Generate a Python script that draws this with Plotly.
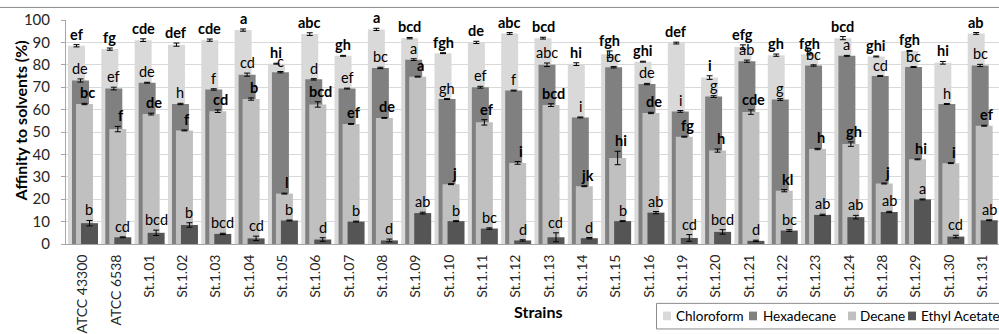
import plotly.graph_objects as go

strains = ["ATCC 43300", "ATCC 6538", "St.1.01", "St.1.02", "St.1.03", "St.1.04", "St.1.05",
           "St.1.06", "St.1.07", "St.1.08", "St.1.09", "St.1.10", "St.1.11", "St.1.12",
           "St.1.13", "St.1.14", "St.1.15", "St.1.16", "St.1.19", "St.1.20", "St.1.21",
           "St.1.22", "St.1.23", "St.1.24", "St.1.28", "St.1.29", "St.1.30", "St.1.31"]

chloroform = [88.5, 87.0, 91.0, 89.0, 91.0, 95.5, 80.5, 93.7, 84.0, 95.8, 91.9, 85.2, 90.0, 94.0,
              91.9, 80.3, 84.7, 81.4, 89.7, 74.3, 87.9, 84.3, 84.7, 91.9, 83.7, 86.2, 80.9, 94.0]
chloroform_err = [0.5, 0.5, 0.6, 0.7, 0.5, 0.5, 0.2, 0.6, 0.2, 0.5, 0.3, 0.2, 0.5, 0.4,
                  0.4, 0.6, 1.5, 0.2, 0.4, 0.8, 1.0, 0.5, 0.3, 0.7, 0.2, 0.2, 0.6, 0.4]
chloroform_lbl = ["ef", "fg", "cde", "def", "cde", "a", "hi", "abc", "gh", "a", "bcd", "fgh", "de", "abc",
                  "bcd", "hi", "fgh", "ghi", "def", "i", "efg", "gh", "fgh", "bcd", "ghi", "fgh", "hi", "ab"]

hexadecane = [73.0, 69.4, 72.0, 62.5, 69.0, 75.6, 76.7, 73.5, 69.4, 78.6, 82.3, 64.7, 70.0, 68.5,
              80.0, 56.5, 78.9, 71.4, 59.2, 65.8, 81.6, 64.5, 79.7, 84.0, 75.0, 79.0, 62.5, 79.7]
hexadecane_err = [0.7, 0.6, 0.2, 0.3, 0.3, 0.7, 0.3, 0.3, 0.2, 0.3, 0.4, 0.2, 0.4, 0.2,
                  0.8, 0.2, 0.3, 0.3, 0.4, 0.4, 0.5, 0.4, 0.3, 0.2, 0.2, 0.2, 0.2, 0.5]
hexadecane_lbl = ["de", "ef", "de", "h", "f", "cd", "c", "d", "ef", "bc", "a", "gh", "ef", "f",
                  "abc", "i", "bc", "de", "i", "g", "ab", "g", "bc", "a", "cd", "bc", "h", "bc"]

decane = [62.5, 51.3, 58.0, 50.7, 59.3, 64.7, 22.5, 62.3, 53.6, 56.3, 74.7, 26.7, 54.3, 36.2,
          62.0, 25.8, 38.4, 58.5, 47.9, 41.7, 58.9, 23.8, 42.4, 44.6, 27.0, 37.8, 36.1, 52.8]
decane_err = [0.3, 1.2, 0.4, 0.2, 0.6, 0.5, 0.2, 1.2, 0.2, 0.2, 0.2, 0.2, 1.2, 0.6,
              0.6, 0.2, 3.0, 0.3, 0.2, 0.7, 1.0, 0.5, 0.3, 1.0, 0.2, 0.2, 0.2, 0.2]
decane_lbl = ["bc", "f", "de", "f", "cd", "b", "l", "bcd", "ef", "de", "a", "j", "ef", "i",
              "bcd", "jk", "hi", "de", "fg", "h", "cde", "kl", "h", "gh", "j", "hi", "i", "ef"]

ethyl_acetate = [9.3, 3.0, 5.0, 8.5, 4.5, 2.5, 10.5, 2.0, 10.0, 1.6, 13.8, 10.2, 6.9, 1.6,
                 3.0, 2.6, 10.2, 14.0, 2.7, 5.4, 1.4, 6.0, 13.0, 12.0, 14.3, 19.9, 3.3, 10.6]
ethyl_acetate_err = [1.2, 0.2, 1.2, 1.0, 0.3, 1.0, 0.2, 0.8, 0.2, 0.6, 0.4, 0.2, 0.3, 0.3,
                     2.0, 0.3, 0.2, 0.5, 1.5, 1.0, 0.3, 0.4, 0.3, 0.8, 0.3, 0.2, 0.6, 0.2]
ethyl_acetate_lbl = ["b", "cd", "bcd", "b", "bcd", "cd", "b", "d", "b", "d", "ab", "b", "bc", "d",
                     "cd", "d", "b", "ab", "cd", "bcd", "d", "bc", "ab", "ab", "ab", "a", "cd", "ab"]

series_names = ["Chloroform", "Hexadecane", "Decane", "Ethyl Acetate"]

# styles
FONT = "Lato"
W = 0.51
styles = [
    dict(color="#D9D9D9", offset=-0.44, bold=True, xshift=0),
    dict(color="#808080", offset=-0.32, bold=False, xshift=0),
    dict(color="#C0C0C0", offset=-0.20, bold=True, xshift=3),
    dict(color="#555555", offset=-0.05, bold=False, xshift=0),
]
data = [
    (chloroform, chloroform_err, chloroform_lbl),
    (hexadecane, hexadecane_err, hexadecane_lbl),
    (decane, decane_err, decane_lbl),
    (ethyl_acetate, ethyl_acetate_err, ethyl_acetate_lbl),
]

L, R, T, B = 66, 0, 20, 82
WIDTH, HEIGHT = 999, 334
PW = WIDTH - L - R
PH = HEIGHT - T - B


def px_x(p):
    return (p - L) / PW


def px_y(p):
    return (HEIGHT - B - p) / PH


fig = go.Figure()
xs = list(range(len(strains)))
annotations = []
for name, (vals, errs, lbls), st in zip(series_names, data, styles):
    fig.add_trace(go.Bar(
        x=xs, y=vals, name=name, width=W, offset=st["offset"],
        marker=dict(color=st["color"], line=dict(width=0)),
        error_y=dict(type="data", array=errs, color="#000000", thickness=1, width=3),
        showlegend=False,
    ))
    for i, (v, e, t) in enumerate(zip(vals, errs, lbls)):
        annotations.append(dict(
            x=i + st["offset"] + W / 2, y=v + e, xref="x", yref="y",
            text=f"<b>{t}</b>" if st["bold"] else t,
            showarrow=False, yanchor="bottom", xanchor="center", yshift=0, xshift=st["xshift"],
            font=dict(family=FONT, size=14.5, color="#000000"),
        ))

# axis titles
annotations.append(dict(
    x=px_x(538), y=px_y(322), xref="paper", yref="paper", text="<b>Strains</b>",
    showarrow=False, xanchor="center", yanchor="middle",
    font=dict(family=FONT, size=16, color="#000000"),
))
annotations.append(dict(
    x=px_x(20), y=px_y(125), xref="paper", yref="paper", text="<b>Affinity to solvents (%)</b>",
    showarrow=False, xanchor="center", yanchor="middle", textangle=-90,
    font=dict(family=FONT, size=16, color="#000000"),
))

# manual legend
shapes = [
    dict(type="line", xref="paper", yref="paper", x0=px_x(0), x1=px_x(999), y0=px_y(7), y1=px_y(7),
         line=dict(color="#8C8C8C", width=1)),
    dict(type="rect", xref="paper", yref="paper", x0=px_x(656.5), x1=px_x(1010), y0=px_y(313.5), y1=px_y(340),
         line=dict(color="#8C8C8C", width=1), fillcolor="rgba(0,0,0,0)"),
]
leg_sq = [663, 749, 848, 908]
leg_tx = [674, 761, 858, 919]
for name, st, sx, tx in zip(series_names, styles, leg_sq, leg_tx):
    shapes.append(dict(type="rect", xref="paper", yref="paper", x0=px_x(sx), x1=px_x(sx + 8),
                       y0=px_y(331), y1=px_y(322), line=dict(width=0), fillcolor=st["color"]))
    annotations.append(dict(
        x=px_x(tx), y=px_y(326.5), xref="paper", yref="paper", text=name, showarrow=False,
        xanchor="left", yanchor="middle", font=dict(family=FONT, size=13.5, color="#000000"),
    ))

fig.update_layout(
    width=WIDTH, height=HEIGHT, barmode="overlay",
    margin=dict(l=L, r=R, t=T, b=B, pad=0),
    paper_bgcolor="white", plot_bgcolor="white",
    font=dict(family=FONT, color="#000000"),
    annotations=annotations, shapes=shapes,
    xaxis=dict(
        range=[-0.5, len(strains) - 0.5], tickmode="array", tickvals=xs, ticktext=strains,
        tickangle=-90, tickfont=dict(family=FONT, size=14, color="#262626"),
        showgrid=False, zeroline=False, showline=True, linecolor="#A6A6A6", linewidth=1,
        ticks="", ticklabelstandoff=4,
    ),
    yaxis=dict(
        range=[0, 100], dtick=10, tickfont=dict(family=FONT, size=15, color="#262626"),
        showgrid=True, gridcolor="#D9D9D9", gridwidth=1, zeroline=False,
        showline=True, linecolor="#A6A6A6", linewidth=1, ticks="outside", ticklen=4,
        tickcolor="#A6A6A6", ticklabelstandoff=8,
    ),
)

fig.write_html("out.html")
